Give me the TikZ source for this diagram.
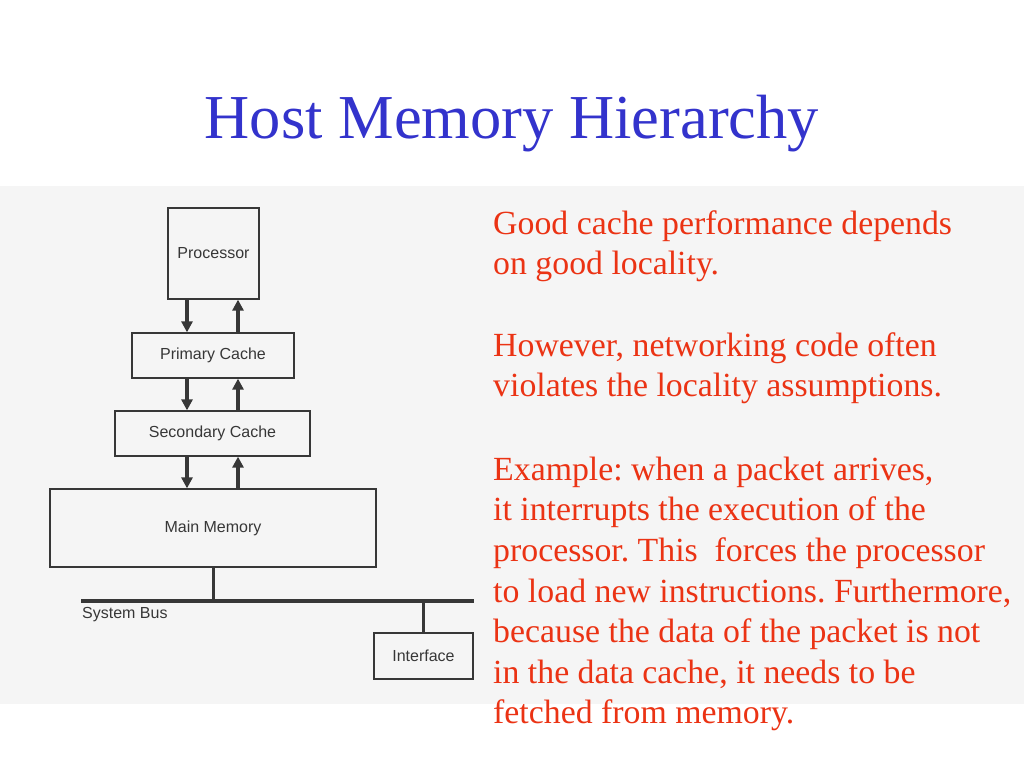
\documentclass[tikz,border=0pt]{standalone}
\usepackage{fontspec}
\setmainfont{Liberation Serif}
\newfontfamily\diagfont{Liberation Sans}
\usetikzlibrary{arrows.meta}
\definecolor{titleblue}{RGB}{51,51,204}
\definecolor{textred}{RGB}{235,51,20}
\definecolor{ink}{RGB}{55,55,55}
\definecolor{paper}{RGB}{245,245,245}
\frenchspacing
\begin{document}
\begin{tikzpicture}[x=1pt,y=-1pt,
  box/.style={draw=ink, line width=1.3pt, fill=paper, text=ink,
    font=\diagfont\fontsize{16}{18}\selectfont, inner sep=0pt},
  flow/.style={draw=ink, line width=3.3pt, -{Triangle[length=11pt,width=11pt]}},
  busline/.style={draw=ink, line width=4pt},
  link/.style={draw=ink, line width=3pt},
  lbl/.style={text=ink, font=\diagfont\fontsize{16}{18}\selectfont, inner sep=0pt},
  body/.style={text=textred, font=\fontsize{33.8}{40}\selectfont, anchor=base west, inner sep=0pt},
]
\useasboundingbox (0,0) rectangle (1024,768);
\fill[white] (0,0) rectangle (1024,768);
\fill[paper] (0,186) rectangle (1024,704);

% title
\node[text=titleblue, font=\fontsize{62.5}{70}\selectfont, anchor=base, inner sep=0pt] (title) at (512,138) {Host Memory Hierarchy};

% diagram
\node[box, minimum width=91pt, minimum height=91pt] (proc) at (213.5,253.5) {Processor};
\node[box, minimum width=162pt, minimum height=45pt] (prim) at (213,355.5) {Primary Cache};
\node[box, minimum width=195pt, minimum height=45pt] (sec) at (212.5,433.5) {Secondary Cache};
\node[box, minimum width=326pt, minimum height=78pt] (main) at (213,528) {Main Memory};
\node[box, minimum width=99pt, minimum height=46pt] (iface) at (423.5,656) {Interface};

\coordinate (ax1) at (187,0);
\coordinate (ax2) at (238,0);
\draw[flow] (proc.south -| ax1) -- (prim.north -| ax1);
\draw[flow] (prim.north -| ax2) -- (proc.south -| ax2);
\draw[flow] (prim.south -| ax1) -- (sec.north -| ax1);
\draw[flow] (sec.north -| ax2) -- (prim.south -| ax2);
\draw[flow] (sec.south -| ax1) -- (main.north -| ax1);
\draw[flow] (main.north -| ax2) -- (sec.south -| ax2);

\coordinate (busL) at (81,601);
\coordinate (busR) at (474,601);
\draw[busline] (busL) -- (busR);
\draw[link] (main.south) -- (main.south |- busL);
\draw[link] (iface.north) -- (iface.north |- busR);
\node[lbl, anchor=west] (buslbl) at (82,615) {System Bus};

% text
\node[body] (l1) at (493,234) {Good cache performance depends};
\node[body] (l2) at (493,274) {on good locality.};
\node[body] (l3) at (493,356) {However, networking code often};
\node[body] (l4) at (493,396) {violates the locality assumptions.};
\node[body] (l5) at (493,480) {Example: when a packet arrives,};
\node[body] (l6) at (493,520) {it interrupts the execution of the};
\node[body] (l7) at (493,561) {processor. This~ forces the processor};
\node[body] (l8) at (493,602) {to load new instructions. Furthermore,};
\node[body] (l9) at (493,642) {because the data of the packet is not};
\node[body] (l10) at (493,683) {in the data cache, it needs to be};
\node[body] (l11) at (493,723) {fetched from memory.};
\end{tikzpicture}
\end{document}
